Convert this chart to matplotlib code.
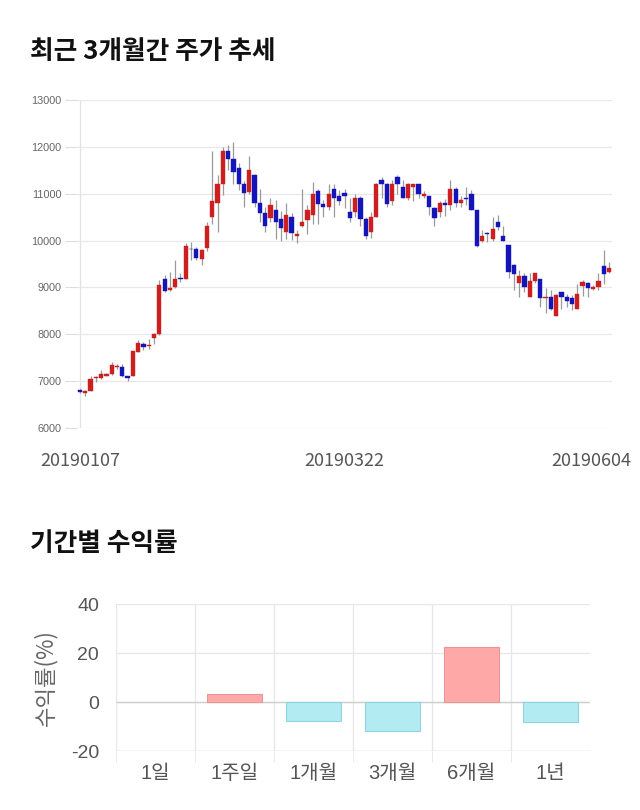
import matplotlib
matplotlib.use("Agg")
import matplotlib.pyplot as plt
import matplotlib.transforms as mtransforms
import numpy as np

plt.rcParams['font.family'] = ['Noto Sans CJK KR', 'DejaVu Sans']

# ---------------- data ----------------
opens = [6820, 6750, 6790, 7060, 7070, 7110, 7150, 7310, 7310, 7110,
         7110, 7630, 7790, 7740, 7910, 8000, 9190, 8940, 9000, 9200,
         9190, 9820, 9810, 9600, 9850, 10510, 10810, 11205, 11910, 11750,
         11550, 11200, 11040, 11400, 10806, 10590, 10490, 10650, 10460, 10190,
         10510, 10100, 10300, 10440, 10545, 11055, 10790, 10710, 11100, 10950,
         11010, 10600, 10600, 10900, 10450, 10190, 10510, 11300, 11200, 10850,
         11350, 11150, 10900, 11150, 11200, 10950, 10950, 10700, 10600, 10800,
         10750, 11090, 10800, 10900, 11000, 10645, 9990, 10150, 10040, 10400,
         10090, 9900, 9475, 9100, 9240, 8790, 9140, 9180, 8770, 8800,
         8400, 8910, 8800, 8770, 8550, 9030, 9100, 8960, 9010, 9460,
         9330]
highs = [6830, 6810, 7100, 7120, 7230, 7180, 7410, 7360, 7370, 7120,
         7650, 7880, 7840, 7900, 8020, 9150, 9260, 9320, 9580, 9300,
         9950, 9960, 9870, 9830, 10390, 11910, 11400, 12000, 12040, 12110,
         11650, 11280, 11800, 11420, 11090, 10720, 10900, 10860, 10640, 10810,
         10590, 10220, 11100, 10760, 11240, 11110, 10860, 11200, 11200, 11080,
         11100, 10900, 11000, 10940, 10510, 10610, 11220, 11350, 11230, 11300,
         11400, 11300, 11230, 11210, 11200, 11050, 10950, 10710, 10850, 10890,
         11300, 11140, 10960, 11140, 11085, 10645, 10230, 10180, 10500, 10540,
         10300, 9900, 9500, 9370, 9300, 9310, 9300, 9180, 8990, 8940,
         8870, 8910, 8870, 8840, 9070, 9150, 9120, 9050, 9310, 9790,
         9550]
lows = [6740, 6680, 6780, 6980, 7050, 7100, 7130, 7260, 7090, 7010,
        7100, 7620, 7660, 7680, 7800, 7990, 8900, 8920, 8980, 9120,
        9180, 9580, 9580, 9470, 9780, 10360, 10190, 10970, 11500, 11200,
        11080, 10710, 11000, 10720, 10400, 10190, 10400, 10040, 10000, 10040,
        10010, 9940, 10280, 10150, 10360, 10360, 10500, 10650, 10510, 10760,
        10700, 10400, 10500, 10300, 10040, 10060, 10500, 10900, 10720, 10760,
        10990, 10900, 10860, 10850, 10900, 10900, 10540, 10310, 10500, 10530,
        10660, 10720, 10720, 10750, 10645, 9870, 9970, 9970, 10000, 10220,
        9990, 9210, 8940, 8800, 8900, 8790, 9100, 8590, 8450, 8510,
        8400, 8530, 8580, 8510, 8550, 8810, 8790, 8950, 8940, 9080,
        9300]
closes = [6760, 6800, 7050, 7080, 7160, 7150, 7340, 7330, 7110, 7070,
          7640, 7820, 7730, 7770, 8000, 9050, 8930, 8990, 9170, 9180,
          9880, 9810, 9630, 9790, 10310, 10850, 11200, 11910, 11750, 11460,
          11200, 11010, 11500, 10810, 10590, 10300, 10760, 10400, 10260, 10540,
          10170, 10150, 10400, 10650, 11000, 10790, 10710, 11000, 10900, 10850,
          10950, 10490, 10900, 10450, 10100, 10510, 11200, 11200, 10790, 11200,
          11200, 10900, 11200, 11200, 11000, 11000, 10710, 10490, 10800, 10750,
          11090, 10800, 10860, 10890, 10645, 9890, 10090, 10140, 10255, 10290,
          9990, 9330, 9280, 9240, 9000, 9135, 9300, 8770, 8790, 8530,
          8840, 8800, 8700, 8650, 8860, 9105, 8990, 9010, 9140, 9280,
          9420]
date_labels = ['20190107', '20190322', '20190604']
date_label_idx = [0, 50, 100]
price_ticks = [6000, 7000, 8000, 9000, 10000, 11000, 12000, 13000]

periods = ['1일', '1주일', '1개월', '3개월', '6개월', '1년']
returns = [0.0, 3.2, -7.8, -11.7, 22.3, -8.3]
return_ticks = [-20, 0, 20, 40]

# ---------------- figure ----------------
fig = plt.figure(figsize=(6.4, 8.1), dpi=100)
fig.patch.set_facecolor('white')

fig.text(0.047, 0.936, '최근 3개월간 주가 추세', fontsize=18.5, fontweight='bold',
         color='#111111', va='center', ha='left')
fig.text(0.047, 0.3296, '기간별 수익률', fontsize=18.5, fontweight='bold',
         color='#111111', va='center', ha='left')

# ---- candlestick chart ----
ax1 = fig.add_axes([0.12, 0.4716, 0.8366, 0.405])
o = np.array(opens, float); h = np.array(highs, float)
l = np.array(lows, float); c = np.array(closes, float)
idx = np.arange(len(o))
up = c >= o
red = '#cc1f1f'
blue = '#1414b8'
cols = np.where(up, red, blue)
ax1.vlines(idx, l, h, color='#9a9a9a', lw=0.9, zorder=2)
body_bottom = np.minimum(o, c)
body_height = np.maximum(np.abs(c - o), 18)
ax1.bar(idx, body_height, bottom=body_bottom, width=0.8, color=cols,
        edgecolor=cols, lw=0.3, zorder=3)

ax1.set_ylim(6000, 13000)
ax1.set_xlim(-0.6, len(o) - 0.4)
ax1.set_yticks(price_ticks)
ax1.set_yticklabels([str(t) for t in price_ticks], family=['Liberation Sans', 'DejaVu Sans'],
                    fontsize=7.8, color='#666666')
ax1.yaxis.grid(True, color='#e8e8e8', lw=0.9)
ax1.set_axisbelow(True)
for s in ax1.spines.values():
    s.set_visible(False)
ax1.axvline(0, color='#e3e3e3', lw=0.9, zorder=1)
ax1.tick_params(axis='y', length=9, color='#dddddd', pad=2)
ax1.set_xticks(date_label_idx)
ax1.set_xticklabels(date_labels, fontsize=13, color='#555555')
ax1.tick_params(axis='x', length=0, pad=17)
lbls = ax1.get_xticklabels()
lbls[-1].set_ha('right')
lbls[-1].set_transform(lbls[-1].get_transform() +
                       mtransforms.ScaledTranslation(0.22, 0, fig.dpi_scale_trans))

# ---- returns bar chart ----
ax2 = fig.add_axes([0.181, 0.0728, 0.741, 0.1815])
pos = np.arange(len(periods))
rv = np.array(returns)
fill = np.where(rv >= 0, '#ffa8a8', '#b2ebf2')
edge = np.where(rv >= 0, '#e89696', '#92d4de')
edge_w = np.where(rv == 0, 0.0, 0.8)
ax2.bar(pos, rv, width=0.7, color=fill, edgecolor=edge, linewidth=edge_w, zorder=3)
ax2.set_xlim(-0.5, len(periods) - 0.5)
ax2.set_ylim(-20, 40)
ax2.set_yticks(return_ticks)
ax2.set_yticklabels([str(t) for t in return_ticks], family=['Liberation Sans', 'DejaVu Sans'],
                    fontsize=14, color='#555555')
ax2.yaxis.grid(True, color='#e6e6e6', lw=0.9, zorder=0)
ax2.axhline(0, color='#cfcfcf', lw=1.0, zorder=2)
ax2.set_xticks(pos)
ax2.set_xticklabels(periods, fontsize=14.5, color='#555555',
                    family=['Liberation Sans', 'Noto Sans CJK KR'])
ax2.set_xticks(np.arange(len(periods)) - 0.5, minor=True)
ax2.xaxis.grid(True, which='minor', color='#e6e6e6', lw=0.9, zorder=0)
ax2.tick_params(axis='x', which='major', length=0, pad=9)
ax2.tick_params(axis='x', which='minor', length=8, color='#e6e6e6')
ax2.tick_params(axis='y', length=0, pad=12)
for s in ax2.spines.values():
    s.set_visible(False)
ax2.axhline(-20, color='#d8d8d8', lw=1.0, zorder=2)
ax2.set_axisbelow(True)
ax2.set_ylabel('수익률(%)', fontsize=16, color='#666666', labelpad=10)

fig.savefig('out.png', dpi=100, facecolor='white')
